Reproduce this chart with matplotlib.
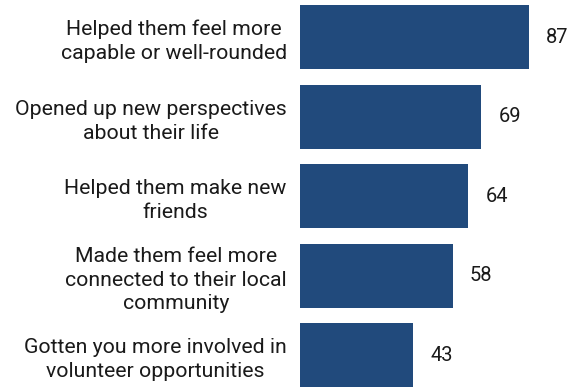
import matplotlib.pyplot as plt
import numpy as np

# Share of respondents saying the experience...
categories = [
    'Helped them feel more\ncapable or well-rounded',
    'Opened up new perspectives\nabout their life',
    'Helped them make new\nfriends',
    'Made them feel more\nconnected to their local\ncommunity',
    'Gotten you more involved in\nvolunteer opportunities',
]
values = [87, 69, 64, 58, 43]

bar_color = '#214a7c'
plt.rcParams['font.family'] = ['Roboto', 'DejaVu Sans']

fig = plt.figure(figsize=(5.78, 3.87), dpi=100)
ax = fig.add_axes([300 / 578, 0.0, 263 / 578, 0.986])

y = np.arange(len(categories))
ax.barh(y, values, height=0.8, color=bar_color)

ax.set_xlim(0, 100)
ax.set_ylim(len(categories) - 0.6, -0.4)

ax.set_yticks(y)
ax.set_yticklabels(categories, fontsize=15.3, color='#1a1a1a')
for lbl in ax.get_yticklabels():
    lbl.set_multialignment('center')
    lbl.set_linespacing(1.32)
ax.tick_params(axis='y', length=0, pad=9.5)
ax.set_xticks([])
for s in ax.spines.values():
    s.set_visible(False)

# value labels to the right of each bar
for yi, v in zip(y, values):
    ax.annotate(str(v), xy=(v, yi), xytext=(17, 0), textcoords='offset pixels',
                va='center', ha='left', fontsize=14.5, color='#1a1a1a')

fig.savefig('out.png', dpi=100)
